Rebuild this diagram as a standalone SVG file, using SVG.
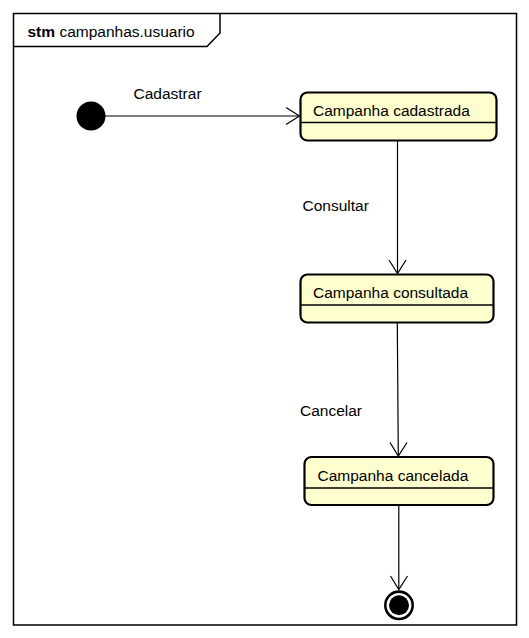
<svg xmlns="http://www.w3.org/2000/svg" width="529" height="638" viewBox="0 0 529 638">
<style>
text{font-family:"Liberation Sans",Arial,sans-serif;font-size:15.5px;fill:#000}
.state rect{fill:#FEFECE;stroke:#000;stroke-width:2.2}
.sep{stroke:#000;stroke-width:1.5}
.edge{stroke:#000;stroke-width:1.2;fill:none}
</style>
<rect width="529" height="638" fill="#fff"/>
<g id="frame">
<rect x="13.5" y="13.5" width="503" height="611.5" fill="none" stroke="#000" stroke-width="1.5"/>
<path d="M13.5 46.5 H207 L220 33 V13.5" fill="none" stroke="#000" stroke-width="1.5"/>
<text x="27.5" y="36.5"><tspan font-weight="bold">stm</tspan> campanhas.usuario</text>
</g>
<g id="edges">
<g id="e1"><path class="edge" d="M105 116 H299"/><path class="edge" d="M286 107.5 L299.5 116 L286 124.5"/><text x="133.5" y="98.5">Cadastrar</text></g>
<g id="e2"><path class="edge" d="M397.5 141 V273"/><path class="edge" d="M389 260 L397.5 273.5 L406 260"/><text x="302.5" y="211">Consultar</text></g>
<g id="e3"><path class="edge" d="M397.3 323 L398.3 455.5"/><path class="edge" d="M390 442.5 L398.3 456 L407 442.5"/><text x="300" y="415.5">Cancelar</text></g>
<g id="e4"><path class="edge" d="M398.8 505 V589"/><path class="edge" d="M390.5 576 L398.8 589.5 L407.5 576"/></g>
</g>
<g id="start"><circle cx="91" cy="116" r="14.5" fill="#000"/></g>
<g id="s1" class="state"><rect x="300.5" y="92.5" width="196" height="48" rx="7"/><line class="sep" x1="301" y1="122.5" x2="496" y2="122.5"/><text x="313" y="116">Campanha cadastrada</text></g>
<g id="s2" class="state"><rect x="300.5" y="274.5" width="193" height="48" rx="7"/><line class="sep" x1="301" y1="305" x2="493" y2="305"/><text x="313" y="298">Campanha consultada</text></g>
<g id="s3" class="state"><rect x="304.5" y="457" width="189" height="48" rx="7"/><line class="sep" x1="305" y1="488" x2="493" y2="488"/><text x="317.5" y="481">Campanha cancelada</text></g>
<g id="end"><circle cx="399" cy="605.3" r="13.7" fill="none" stroke="#000" stroke-width="2.6"/><circle cx="399" cy="605.3" r="10" fill="#000"/></g>
</svg>
